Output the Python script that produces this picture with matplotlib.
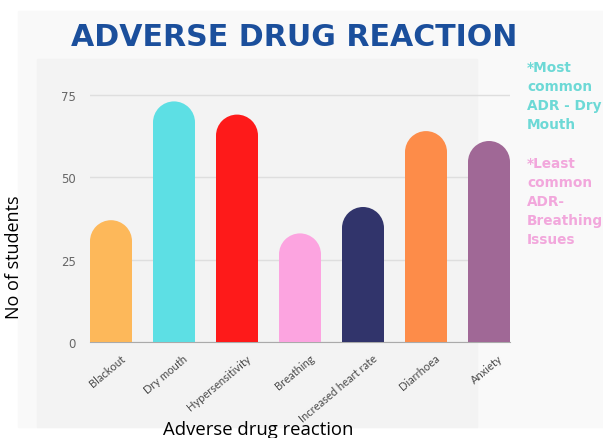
from matplotlib import pyplot as plt
from matplotlib.patches import Ellipse, Rectangle
from matplotlib import transforms
import numpy as np

# Data
reactions = ["Blackout", "Dry mouth", "Hypersensitivity", "Breathing",
             "Increased heart rate", "Diarrhoea", "Anxiety"]
students = [37, 73, 69, 33, 41, 64, 61]
bar_colors = ["#fdb85a", "#5ddfe4", "#fe1a1a", "#fca4e0",
              "#31346b", "#fd8c49", "#a06896"]
yticks = [0, 25, 50, 75]

W, H, DPI = 603, 439, 100
fig = plt.figure(figsize=(W / DPI, H / DPI), dpi=DPI)
fig.patch.set_facecolor("white")

# page-like backgrounds behind the chart
fig.patches.append(Rectangle((18 / W, 1 - 428 / H), (W - 18) / W, (428 - 12) / H,
                             transform=fig.transFigure, color="#f9f9f9", zorder=-2))
fig.patches.append(Rectangle((37 / W, 1 - 428 / H), (477 - 37) / W, (428 - 60) / H,
                             transform=fig.transFigure, color="#f3f3f3", zorder=-1))

# axes placed in pixels: x 90..510, y 79..343
ax = fig.add_axes([90 / W, 1 - 343.3 / H, 420 / W, 264 / H])
ax.set_facecolor("none")
ax.set_xlim(-1 / 3, 6 + 1 / 3)
ax.set_ylim(0, 80)

bar_w = 2 / 3
# radius of the round cap, in y units (half bar width in pixels / px per y unit)
px_per_x = 420 / (ax.get_xlim()[1] - ax.get_xlim()[0])
px_per_y = 264 / 80
r_y = (bar_w / 2) * px_per_x / px_per_y

x = np.arange(len(reactions))
body = [v - r_y for v in students]
ax.bar(x, body, width=bar_w, color=bar_colors, linewidth=0, zorder=3)
for xi, b, c in zip(x, body, bar_colors):
    ax.add_patch(Ellipse((xi, b), bar_w, 2 * r_y, facecolor=c, linewidth=0, zorder=3))

ax.set_yticks(yticks)
ax.grid(axis="y", color="#dedede", linewidth=1, zorder=0)
for s in ["top", "right", "left"]:
    ax.spines[s].set_visible(False)
ax.spines["bottom"].set_color("#aaaaaa")
ax.tick_params(axis="y", length=0, pad=10, labelsize=8.5, labelcolor="#666666")
ax.tick_params(axis="x", length=0, pad=7)
ax.set_xticks(x)
ax.set_xticklabels(reactions, rotation=40, ha="right", rotation_mode="anchor",
                   fontsize=8, color="#4a4a4a", family="Lato")
shift = transforms.ScaledTranslation(9 / DPI, 0, fig.dpi_scale_trans)
for lab in ax.get_xticklabels():
    lab.set_transform(lab.get_transform() + shift)

fig.text(294 / W, 1 - 38 / H, "ADVERSE DRUG REACTION", ha="center", va="center",
         fontsize=21.6, fontweight="bold", color="#1b4f9c", family="DejaVu Sans")

fig.text(14 / W, 1 - 257 / H, "No of students", rotation=90, ha="center", va="center",
         fontsize=13, color="black", family="Open Sans")
fig.text(258 / W, 1 - 430 / H, "Adverse drug reaction", ha="center", va="center",
         fontsize=13.3, color="black", family="Open Sans")

fig.text(527 / W, 1 - 61 / H, "*Most\ncommon\nADR - Dry\nMouth", ha="left", va="top",
         fontsize=9.8, fontweight="bold", color="#6dd9d6", linespacing=1.45,
         family="DejaVu Sans")
fig.text(527 / W, 1 - 157 / H, "*Least\ncommon\nADR-\nBreathing\nIssues", ha="left",
         va="top", fontsize=9.8, fontweight="bold", color="#f2a7dc", linespacing=1.45,
         family="DejaVu Sans")

fig.savefig("out.png", dpi=DPI)
